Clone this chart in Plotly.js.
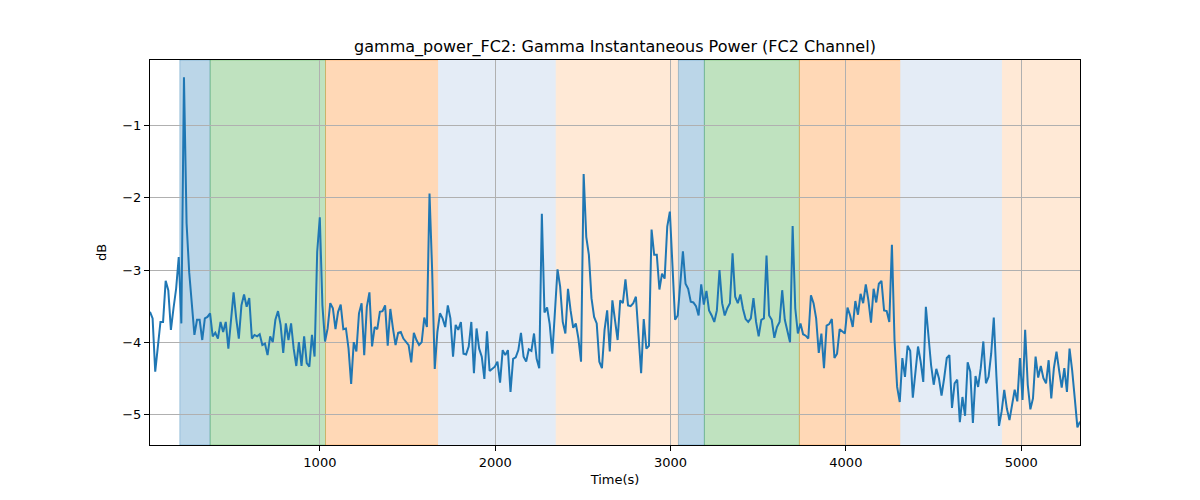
<!DOCTYPE html>
<html>
<head>
<meta charset="utf-8">
<script src="https://cdn.plot.ly/plotly-3.0.1.min.js"></script>
<style>
  body { margin: 0; background: #fff; }
  #chart { width: 1200px; height: 500px; }
</style>
</head>
<body>
<div id="chart"></div>
<script>
// sampling of the power trace (seconds)
var startTime = 31;
var sampleStep = 14.9;

// gamma power in dB, one value per sample
var powerDb = [
  -3.58, -3.67, -4.41, -4.09, -3.72, -3.72, -3.15, -3.28, -3.83, -3.53,
  -3.26, -2.82, -3.74, -0.33, -2.35, -3.03, -3.53, -3.90, -3.69, -3.69,
  -3.97, -3.67, -3.65, -3.60, -3.92, -3.87, -3.95, -3.72, -3.86, -3.72,
  -4.09, -3.70, -3.31, -3.67, -3.95, -3.49, -3.34, -3.51, -3.39, -3.95,
  -3.90, -3.92, -3.89, -4.04, -4.02, -4.18, -3.92, -4.00, -3.69, -3.57,
  -3.76, -4.15, -3.74, -3.97, -3.74, -4.09, -4.33, -4.00, -4.33, -3.92,
  -4.29, -4.34, -3.90, -4.20, -2.75, -2.27, -3.49, -3.99, -3.81, -3.46,
  -3.53, -3.82, -3.58, -3.48, -3.82, -3.81, -4.09, -4.58, -4.00, -4.13,
  -3.60, -3.46, -4.18, -3.51, -3.31, -4.06, -3.79, -3.82, -3.58, -3.57,
  -3.49, -4.05, -3.54, -3.81, -4.04, -3.87, -3.86, -3.95, -4.00, -4.04,
  -4.28, -3.87, -3.97, -4.04, -4.00, -3.66, -3.79, -1.94, -3.00, -4.37,
  -3.86, -3.60, -3.67, -3.79, -3.49, -3.67, -4.20, -3.76, -3.83, -3.72,
  -4.16, -4.17, -4.06, -3.72, -4.43, -3.81, -4.09, -4.20, -4.51, -3.85,
  -4.40, -4.37, -4.34, -4.27, -4.56, -4.11, -4.18, -4.11, -4.69, -4.23,
  -4.21, -4.11, -3.87, -4.20, -4.27, -4.10, -4.12, -3.88, -4.23, -4.36,
  -2.22, -3.59, -3.52, -3.75, -4.16, -3.58, -2.99, -3.23, -3.72, -3.88,
  -3.26, -3.56, -3.80, -3.74, -3.95, -4.27, -1.67, -2.54, -2.79, -3.39,
  -3.65, -3.74, -4.27, -4.36, -3.83, -3.56, -4.13, -3.42, -3.67, -3.97,
  -3.42, -3.46, -3.13, -3.49, -3.50, -3.46, -3.37, -3.92, -4.43, -3.68,
  -4.09, -4.05, -2.44, -2.79, -2.79, -3.27, -3.05, -3.12, -2.40, -2.19,
  -2.99, -3.69, -3.63, -3.16, -2.74, -3.19, -3.26, -3.44, -3.45, -3.50,
  -3.63, -3.20, -3.48, -3.29, -3.56, -3.63, -3.72, -3.56, -3.00, -3.46,
  -3.63, -3.53, -3.46, -2.77, -3.37, -3.46, -3.34, -3.54, -3.68, -3.72,
  -3.67, -3.39, -3.72, -3.92, -3.69, -3.67, -2.80, -3.63, -3.69, -3.94,
  -3.79, -3.72, -3.28, -3.69, -3.87, -4.00, -2.39, -3.53, -3.88, -3.74,
  -3.89, -3.91, -3.95, -3.35, -3.46, -3.67, -4.15, -3.88, -4.36, -3.77,
  -3.75, -3.68, -4.22, -4.16, -3.82, -3.85, -3.88, -3.52, -3.63, -3.79,
  -3.43, -3.62, -3.33, -3.46, -3.20, -3.42, -3.73, -3.26, -3.45, -3.19,
  -3.15, -3.56, -3.57, -3.72, -2.65, -3.97, -4.62, -4.83, -4.22, -4.48,
  -4.05, -4.12, -4.77, -4.42, -4.06, -4.27, -4.55, -3.51, -3.90, -4.32,
  -4.59, -4.37, -4.50, -4.74, -4.50, -4.22, -4.18, -4.91, -4.57, -4.52,
  -5.11, -4.76, -5.02, -4.28, -4.41, -5.12, -4.47, -4.62, -4.36, -3.99,
  -4.57, -4.48, -4.16, -3.66, -4.47, -5.16, -4.96, -4.66, -4.92, -5.08,
  -4.87, -4.66, -4.82, -4.22, -4.80, -3.83, -4.59, -4.93, -4.78, -4.20,
  -4.49, -4.33, -4.50, -4.57, -4.25, -4.78, -4.36, -4.13, -4.39, -4.63,
  -4.36, -4.69, -4.09, -4.39, -4.78, -5.18, -5.10
];

// shaded phases: start, end (seconds) and colour
var phaseStart = [201, 374, 1032, 1677, 2348, 3045, 3193, 3735, 4313, 4893];
var phaseEnd   = [374, 1032, 1677, 2348, 3045, 3193, 3735, 4313, 4893, 5400];
var phaseColor = [
  'rgba(31,119,180,0.3)', 'rgba(44,160,44,0.3)', 'rgba(255,127,14,0.3)',
  'rgb(228,236,246)', 'rgb(255,233,214)',
  'rgba(31,119,180,0.3)', 'rgba(44,160,44,0.3)', 'rgba(255,127,14,0.3)',
  'rgb(228,236,246)', 'rgb(255,233,214)'
];

var times = [];
for (var i = 0; i < powerDb.length; i++) {
  times.push(startTime + i * sampleStep);
}
var endTime = times[times.length - 1];

var shapes = [];
for (var k = 0; k < phaseStart.length; k++) {
  shapes.push({
    type: 'rect', xref: 'x', yref: 'paper', layer: 'below',
    x0: phaseStart[k], x1: phaseEnd[k], y0: 0, y1: 1,
    fillcolor: phaseColor[k],
    line: { color: phaseColor[k], width: 1 }
  });
}

var trace = {
  x: times,
  y: powerDb,
  mode: 'lines',
  type: 'scatter',
  line: { color: '#1f77b4', width: 2 },
  hoverinfo: 'x+y'
};

var axisCommon = {
  showline: true, mirror: true, linecolor: '#000', linewidth: 1,
  ticks: 'outside', ticklen: 5, tickcolor: '#000',
  showgrid: true, gridcolor: '#b0b0b0', gridwidth: 1,
  zeroline: false,
  tickfont: { family: 'DejaVu Sans', size: 13, color: '#000' }
};

var layout = {
  width: 1200, height: 500,
  margin: { l: 150, r: 120, t: 60, b: 55 },
  paper_bgcolor: '#fff', plot_bgcolor: '#fff',
  showlegend: false,
  title: {
    text: 'gamma_power_FC2: Gamma Instantaneous Power (FC2 Channel)',
    font: { family: 'DejaVu Sans', size: 16, color: '#000' },
    x: 0.5125, xanchor: 'center', y: 0.908, yanchor: 'middle'
  },
  xaxis: Object.assign({}, axisCommon, {
    range: [startTime, endTime],
    tickvals: [1000, 2000, 3000, 4000, 5000],
    title: { text: 'Time(s)', font: { family: 'DejaVu Sans', size: 13, color: '#000' }, standoff: 6 }
  }),
  yaxis: Object.assign({}, axisCommon, {
    range: [-5.425, -0.09],
    tickvals: [-5, -4, -3, -2, -1],
    title: { text: 'dB', font: { family: 'DejaVu Sans', size: 13, color: '#000' }, standoff: 12 }
  }),
  shapes: shapes
};

Plotly.newPlot('chart', [trace], layout, { displayModeBar: false, staticPlot: true });
</script>
</body>
</html>
